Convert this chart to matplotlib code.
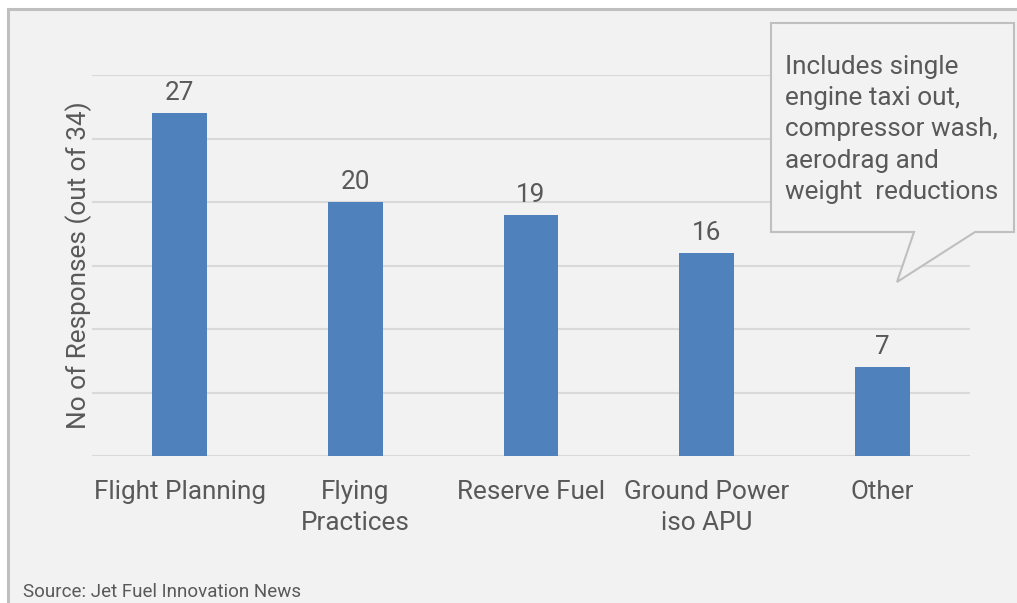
import matplotlib.pyplot as plt
from matplotlib.patches import Rectangle, Polygon

plt.rcParams['font.family'] = ['Roboto', 'DejaVu Sans']

# Survey data
categories = ["Flight Planning", "Flying\nPractices", "Reserve Fuel", "Ground Power\niso APU", "Other"]
responses = [27, 20, 19, 16, 7]
grid_values = [0, 5, 10, 15, 20, 25, 30]

W, H = 1017, 603
textColor = '#595959'
barColor = '#4f81bd'
gridColor = '#d9d9d9'
bg = '#f2f2f2'

fig = plt.figure(figsize=(W / 100, H / 100), dpi=100)
fig.patch.set_facecolor('white')

def fx(px):
    return px / W

def fy(py):
    return 1 - py / H

# Panel with grey frame (runs off the right and bottom edges)
fig.patches.append(Rectangle((fx(7.5), fy(640)), fx(1100), fy(8.5) - fy(640),
                             transform=fig.transFigure, facecolor=bg, edgecolor='#bfbfbf',
                             linewidth=2.2, zorder=-2))

ax = fig.add_axes([fx(92), fy(456), fx(970) - fx(92), fy(75) - fy(456)], zorder=1)
ax.set_facecolor('none')
ax.set_xlim(-0.5, len(categories) - 0.5)
ax.set_ylim(0, 30)
for v in grid_values:
    ax.axhline(v, color=gridColor, linewidth=1.5, zorder=1)

x = range(len(categories))
bars = ax.bar(x, responses, width=0.313, color=barColor, zorder=2)
for b, v in zip(bars, responses):
    ax.annotate(str(v), (b.get_x() + b.get_width() / 2, v), xytext=(0, 5.5),
                textcoords='offset points', ha='center', va='bottom',
                fontsize=18.8, color=textColor)

for s in ax.spines.values():
    s.set_visible(False)
ax.set_yticks([])
ax.set_xticks(list(x))
ax.set_xticklabels(categories, fontsize=18.8, color=textColor, linespacing=1.38)
ax.tick_params(axis='x', length=0, pad=17)
ax.set_ylabel("No of Responses (out of 34)", fontsize=18.8, color=textColor, labelpad=0)

fig.text(fx(23), fy(592), "Source: Jet Fuel Innovation News", fontsize=13.5,
         color=textColor, ha='left', va='center')

# Callout bubble
pts = [(771, 23), (1014, 23), (1014, 232), (975, 232), (897, 282), (914, 232), (771, 232)]
fig.patches.append(Polygon([(fx(px), fy(py)) for px, py in pts], closed=True,
                           transform=fig.transFigure, facecolor=bg, edgecolor='#bfbfbf',
                           linewidth=1.5, zorder=5))
fig.text(fx(785), fy(55), "Includes single\nengine taxi out,\ncompressor wash,\naerodrag and\nweight  reductions",
         fontsize=18.8, color=textColor, ha='left', va='top', linespacing=1.38, zorder=6)

fig.savefig('out.png', dpi=100, facecolor=fig.get_facecolor())
